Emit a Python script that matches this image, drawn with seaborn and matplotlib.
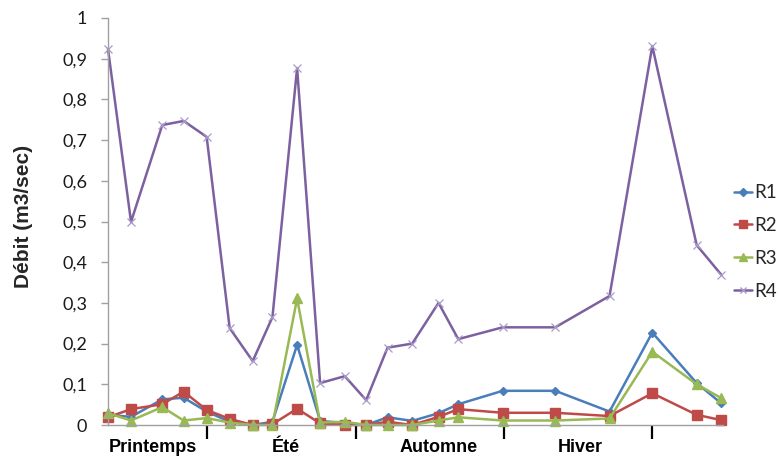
import matplotlib
matplotlib.use("Agg")
import matplotlib.pyplot as plt
import seaborn as sns
import pandas as pd
from matplotlib.ticker import FuncFormatter, FixedLocator
from matplotlib.lines import Line2D

# Sampling day (position along the year axis)
days = [0, 14, 33, 46, 60, 74, 88, 100, 115, 129, 144, 157, 170, 185, 201, 213,
        240, 272, 305, 331, 358, 373]

r1 = [0.025, 0.020, 0.063, 0.067, 0.033, 0.008, 0.000, 0.008, 0.197, 0.010, 0.005,
      0.000, 0.019, 0.010, 0.029, 0.051, 0.084, 0.084, 0.033, 0.227, 0.103, 0.053]
r2 = [0.019, 0.039, 0.051, 0.082, 0.037, 0.015, 0.000, 0.002, 0.040, 0.004, 0.000,
      0.000, 0.008, 0.000, 0.020, 0.039, 0.030, 0.030, 0.022, 0.078, 0.025, 0.012]
r3 = [0.029, 0.011, 0.044, 0.011, 0.017, 0.006, 0.000, 0.000, 0.311, 0.006, 0.008,
      0.000, 0.000, 0.000, 0.011, 0.019, 0.011, 0.011, 0.016, 0.180, 0.100, 0.066]
r4 = [0.924, 0.499, 0.737, 0.747, 0.708, 0.238, 0.157, 0.265, 0.877, 0.103, 0.120,
      0.061, 0.190, 0.200, 0.300, 0.211, 0.240, 0.240, 0.317, 0.931, 0.442, 0.369]

series_names = ["R1", "R2", "R3", "R4"]
season_labels = ["Printemps", "Été", "Automne", "Hiver"]
season_label_pos = [27, 108, 201, 287]
season_bounds = [60, 151, 241, 331]

rows = []
for name, vals in zip(series_names, [r1, r2, r3, r4]):
    for d, v in zip(days, vals):
        rows.append({"jour": d, "debit": v, "serie": name})
df = pd.DataFrame(rows)

sns.set_theme(style="white")
plt.rcParams["font.family"] = ["Lato", "DejaVu Sans"]

palette = {"R1": "#4A7EBB", "R2": "#BE4B48", "R3": "#98B954", "R4": "#7D60A0"}
markers = {"R1": "D", "R2": "s", "R3": "^", "R4": "x"}
sizes = {"R1": 4.5, "R2": 7.5, "R3": 7, "R4": 6}
edge = {"R1": "#4A7EBB", "R2": "#BE4B48", "R3": "#98B954", "R4": "#A99BC8"}

fig = plt.figure(figsize=(7.79, 4.58), dpi=100)
ax = fig.add_axes([108 / 779, 33 / 458, 615 / 779, 407 / 458])

for name in series_names:
    sub = df[df["serie"] == name]
    sns.lineplot(data=sub, x="jour", y="debit", color=palette[name],
                 marker=markers[name], markersize=sizes[name],
                 markeredgecolor=edge[name],
                 markeredgewidth=0.9 if name == "R4" else 1,
                 linewidth=1.8, ax=ax, legend=False, clip_on=False)

ax.set_xlim(0, 374)
ax.set_ylim(0, 1)

ax.yaxis.set_major_locator(FixedLocator([i / 10 for i in range(11)]))
ax.yaxis.set_major_formatter(FuncFormatter(lambda v, p: ("%g" % round(v, 1)).replace(".", ",")))
ax.tick_params(axis="y", which="major", left=True, length=5, width=1, color="#A0A0A0",
               pad=10, labelsize=13, labelcolor="#1a1a1a")

ax.xaxis.set_major_locator(FixedLocator(season_bounds))
ax.xaxis.set_major_formatter(FuncFormatter(lambda v, p: ""))
ax.set_xticks(season_label_pos, minor=True)
ax.set_xticklabels(season_labels, minor=True)
ax.tick_params(axis="x", which="major", bottom=True, length=10, width=1.6,
               color="black", direction="out")
ax.tick_params(axis="x", which="minor", bottom=True, length=0, pad=10)
for lbl in ax.get_xticklabels(minor=True):
    lbl.set_fontfamily(["Liberation Sans", "DejaVu Sans"])
    lbl.set_fontweight("bold")
    lbl.set_fontsize(13)
    lbl.set_color("black")

for s in ["top", "right"]:
    ax.spines[s].set_visible(False)
for s in ["left", "bottom"]:
    ax.spines[s].set_color("#A0A0A0")
    ax.spines[s].set_linewidth(1)
ax.grid(False)

ax.set_xlabel("")
ax.set_ylabel("Débit (m3/sec)", fontsize=15, fontweight="bold",
              family=["Liberation Sans", "DejaVu Sans"])
ax.yaxis.set_label_coords(-0.122, 0.512)

handles = []
for name in series_names:
    handles.append(Line2D([0], [0], color=palette[name], lw=1.8, marker=markers[name],
                          markersize=sizes[name] * 0.8, markeredgecolor=edge[name]))
fig.legend(handles, series_names, loc="center left",
           bbox_to_anchor=(734 / 779, (458 - 242) / 458), frameon=False,
           borderaxespad=0, borderpad=0,
           fontsize=13.5, handlelength=0.95, handletextpad=0.15, labelspacing=0.85)

fig.savefig("out.png", dpi=100)
